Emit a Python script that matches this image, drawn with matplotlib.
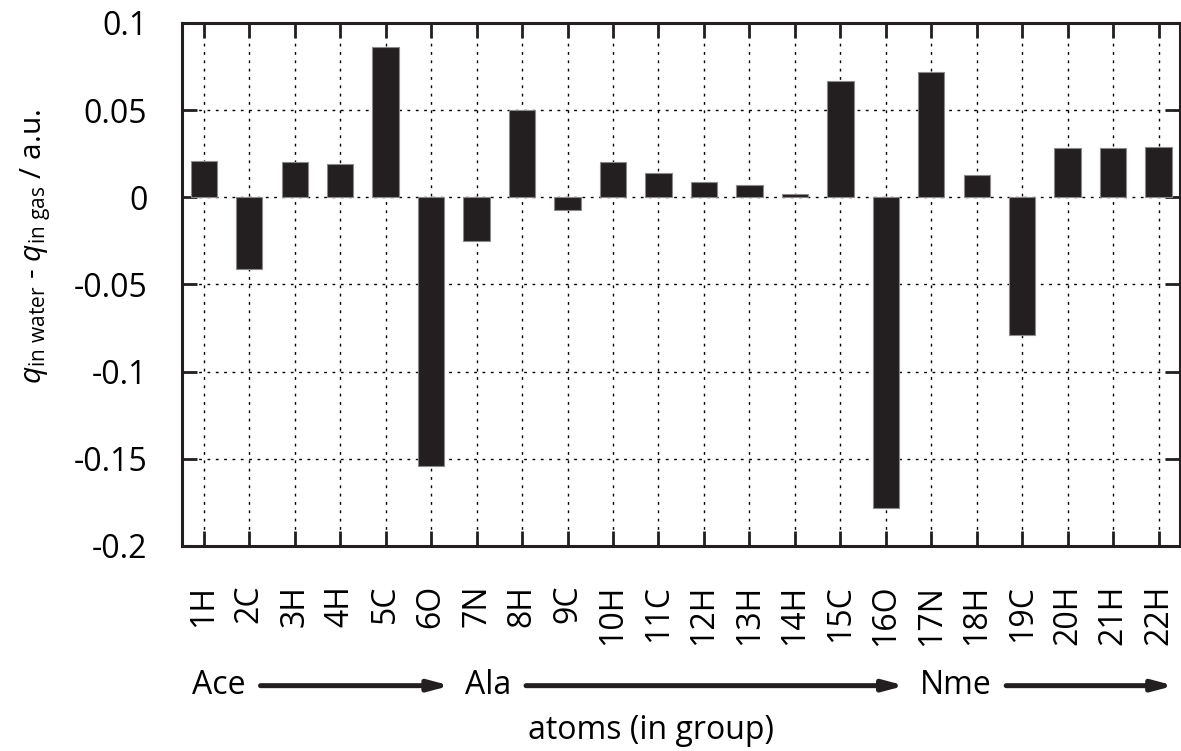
import matplotlib
matplotlib.use("Agg")
import matplotlib.pyplot as plt
import matplotlib.transforms as mtransforms
import numpy as np

# charge difference per atom (water minus gas phase)
atoms = ['1H', '2C', '3H', '4H', '5C', '6O', '7N', '8H', '9C', '10H', '11C',
         '12H', '13H', '14H', '15C', '16O', '17N', '18H', '19C', '20H', '21H', '22H']
dq = [0.021, -0.041, 0.020, 0.019, 0.086, -0.154, -0.025, 0.050, -0.007, 0.020, 0.014,
      0.009, 0.007, 0.002, 0.067, -0.178, 0.072, 0.013, -0.079, 0.028, 0.028, 0.029]
# residue groups and index of the first atom in each
groups = ['Ace', 'Ala', 'Nme']
group_start = [0, 6, 16]

plt.rcParams['font.family'] = ['Open Sans', 'DejaVu Sans']
plt.rcParams['mathtext.fontset'] = 'custom'
plt.rcParams['mathtext.rm'] = 'Open Sans'
plt.rcParams['mathtext.it'] = 'Open Sans:italic'

dark = '#231f20'
fs = 23

fig = plt.figure(figsize=(11.81, 7.51), dpi=100)
ax = fig.add_axes([0.1541, 0.273, 0.845, 0.6964])

x = np.arange(len(atoms))
ax.bar(x, dq, width=0.58, color=dark, edgecolor='#8a8a8a', linewidth=0.8, zorder=3)

ax.set_xlim(-0.48, len(atoms) - 0.53)
ax.set_ylim(-0.2, 0.1)
ax.set_yticks([0.1, 0.05, 0, -0.05, -0.1, -0.15, -0.2])
ax.set_yticklabels(['0.1', '0.05', '0', '-0.05', '-0.1', '-0.15', '-0.2'])
ax.set_xticks(x)
ax.set_xticklabels(atoms, rotation=90)

ax.grid(True, color='black', linestyle=(0, (2, 4)), linewidth=1.0, zorder=0)
ax.set_axisbelow(True)
for s in ax.spines.values():
    s.set_linewidth(2.2)
    s.set_color(dark)
ax.tick_params(direction='in', length=11, width=2.0, color=dark,
               top=True, right=True, labelsize=fs)
ax.tick_params(axis='x', pad=28)
ax.tick_params(axis='y', pad=25)

ax.set_ylabel(r'$q_{\mathrm{in\ water}}$ - $q_{\mathrm{in\ gas}}$ / a.u.',
              fontsize=21.5, va='center')
ax.yaxis.set_label_coords(-0.147, 0.572)

# group names with arrows running to the next group
trans = mtransforms.blended_transform_factory(ax.transData, fig.transFigure)
yrow = 0.087
ends = group_start[1:] + [len(atoms) - 0.08]
fig.canvas.draw()
for name, start, end in zip(groups, group_start, ends):
    t = ax.text(start - 0.26, yrow, name, transform=trans, fontsize=fs,
                ha='left', va='center')
    bb = t.get_window_extent(fig.canvas.get_renderer())
    x0 = ax.transData.inverted().transform((bb.x1 + 15, 0))[0]
    ax.annotate('', xy=(end - 0.58, yrow), xytext=(x0, yrow),
                xycoords=trans, textcoords=trans, annotation_clip=False,
                arrowprops=dict(arrowstyle='-|>,head_length=0.6,head_width=0.16',
                                lw=3.6, color=dark, shrinkA=0, shrinkB=0,
                                mutation_scale=20))

fig.text(0.551, 0.027, 'atoms (in group)', fontsize=fs, ha='center', va='center')

fig.savefig('out.png', dpi=100)
